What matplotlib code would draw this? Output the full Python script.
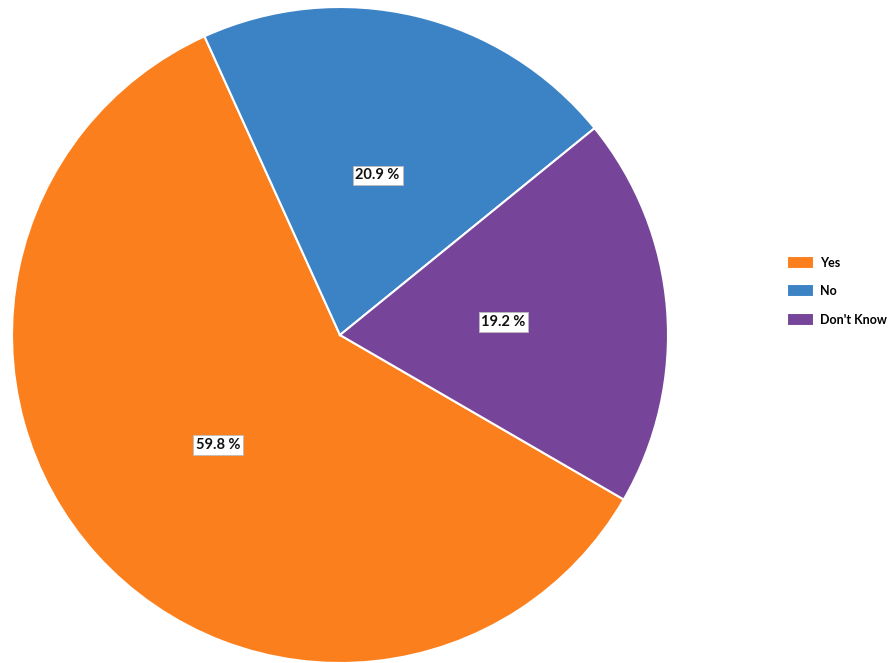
import matplotlib
matplotlib.use("Agg")
import matplotlib.pyplot as plt

plt.rcParams["font.family"] = ["Lato", "DejaVu Sans"]

labels = ["Yes", "No", "Don't Know"]
values = [59.8, 20.9, 19.2]
colors = ["#FC7F1E", "#3C83C6", "#76459A"]

W, H = 895, 663
fig = plt.figure(figsize=(W / 100, H / 100), dpi=100)

# pie centre at (340, 335) px, radius 328 px
cx, cy, r = 340, 335, 328
ax = fig.add_axes([(cx - r) / W, (H - cy - r) / H, 2 * r / W, 2 * r / H])

wedges, texts = ax.pie(
    values, colors=colors, startangle=-30.1, counterclock=False,
    labels=[f"{v:.1f} %" for v in values], labeldistance=0.5,
    wedgeprops=dict(edgecolor="white", linewidth=1.5),
    textprops=dict(fontsize=10.5, color="#111111", ha="center", va="center",
                   fontweight="bold"),
)
for t in texts:
    t.set_bbox(dict(facecolor="white", edgecolor="#bbbbbb", linewidth=0.6, pad=2))
ax.set_xlim(-1, 1)
ax.set_ylim(-1, 1)
ax.set_aspect("equal")

fig.legend(wedges, labels, loc="upper left", bbox_to_anchor=(787 / W, 1 - 256 / H),
           frameon=False, prop=dict(size=9, weight="bold"),
           handlelength=2.2, handleheight=1.2, borderpad=0,
           labelspacing=1.25, handletextpad=0.45, borderaxespad=0)

fig.savefig("out.png", dpi=100)
